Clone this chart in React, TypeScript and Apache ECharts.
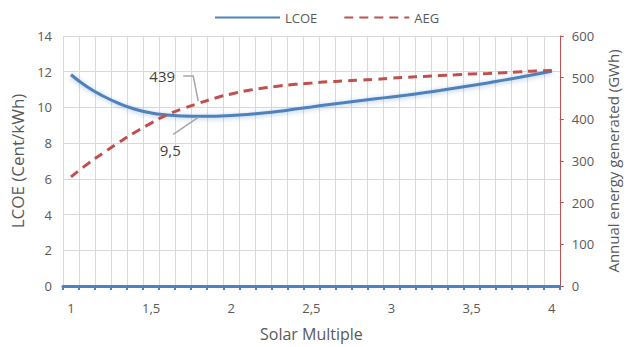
import React, { useEffect, useRef } from "react";
import * as echarts from "echarts";

const solarMultiple = [
  1.0, 1.1, 1.2, 1.3, 1.4, 1.5, 1.6, 1.7, 1.8, 1.9, 2.0, 2.1, 2.2, 2.3, 2.4, 2.5,
  2.6, 2.7, 2.8, 2.9, 3.0, 3.1, 3.2, 3.3, 3.4, 3.5, 3.6, 3.7, 3.8, 3.9, 4.0,
];
const lcoe = [
  11.83, 11.16, 10.64, 10.22, 9.9, 9.69, 9.58, 9.52, 9.5, 9.51, 9.55, 9.61, 9.69,
  9.79, 9.91, 10.03, 10.15, 10.26, 10.37, 10.48, 10.59, 10.7, 10.82, 10.95, 11.09,
  11.23, 11.37, 11.53, 11.69, 11.86, 12.03,
];
const aeg = [
  262, 292, 319, 345, 369, 391, 411, 426, 439, 451, 461, 469, 475, 480, 484, 487,
  490, 492, 494, 496, 499, 501, 503, 505, 507, 509, 510, 512, 514, 516, 517,
];
const annotIndex = 8;
const annotLcoe = "9,5";
const annotAeg = "439";

const FONT = "Open Sans";
const GREY = "#595959";
const BLUE = "#4f81bd";
const RED = "#c0504d";

export default function App() {
  const ref = useRef<HTMLDivElement>(null);
  useEffect(() => {
    document.body.style.margin = "0";
    if (!ref.current) return;
    const chart = echarts.init(ref.current, undefined, { renderer: "svg" });
    const fmt = (v: any) => String(v).replace(".", ",");
    chart.setOption({
      animation: false,
      textStyle: { fontFamily: FONT },
      legend: {
        top: 6,
        left: 209,
        itemWidth: 65,
        itemHeight: 14,
        itemGap: 26,
        itemStyle: { opacity: 0 },
        textStyle: { color: GREY, fontSize: 13, fontFamily: FONT },
        data: ["LCOE", "AEG"],
      },
      grid: { left: 63, right: 68, top: 36, bottom: 59, containLabel: false },
      xAxis: {
        type: "category",
        data: solarMultiple.map((v) => String(v)),
        boundaryGap: true,
        name: "Solar Multiple",
        nameLocation: "middle",
        nameGap: 40,
        nameTextStyle: { color: GREY, fontSize: 16, fontFamily: FONT },
        axisLine: { show: true, lineStyle: { color: BLUE, width: 3 } },
        axisTick: { show: true, interval: 0, length: 4, lineStyle: { color: BLUE, width: 2 } },
        axisLabel: {
          interval: 4,
          color: GREY,
          fontSize: 13,
          margin: 15,
          fontFamily: FONT,
          formatter: fmt,
        },
        splitLine: { show: true, interval: 0, lineStyle: { color: "#d9d9d9", width: 1 } },
      },
      yAxis: [
        {
          type: "value",
          min: 0,
          max: 14,
          interval: 2,
          name: "LCOE (Cent/kWh)",
          nameLocation: "middle",
          nameGap: 34,
          nameTextStyle: { color: GREY, fontSize: 17, fontFamily: FONT },
          axisLine: { show: false },
          axisTick: { show: false },
          axisLabel: { color: GREY, fontSize: 13, margin: 11, fontFamily: FONT },
          splitLine: { show: true, lineStyle: { color: "#d9d9d9", width: 1 } },
        },
        {
          type: "value",
          min: 0,
          max: 600,
          interval: 100,
          position: "right",
          name: "Annual energy generated (GWh)",
          nameLocation: "middle",
          nameGap: 36,
          nameTextStyle: { color: GREY, fontSize: 15, fontFamily: FONT },
          axisLine: { show: true, lineStyle: { color: RED, width: 1 } },
          axisTick: { show: true, length: 4, lineStyle: { color: RED } },
          axisLabel: { color: GREY, fontSize: 13, margin: 12, fontFamily: FONT },
          splitLine: { show: false },
        },
      ],
      series: [
        {
          name: "LCOE",
          type: "line",
          yAxisIndex: 0,
          data: lcoe,
          smooth: true,
          symbol: "none",
          showSymbol: false,
          lineStyle: {
            color: BLUE,
            width: 3,
            shadowColor: "rgba(79,129,189,0.45)",
            shadowBlur: 5,
            shadowOffsetY: 1,
          },
          itemStyle: { color: BLUE },
          z: 3,
        },
        {
          name: "AEG",
          type: "line",
          yAxisIndex: 1,
          data: aeg,
          smooth: true,
          symbol: "none",
          showSymbol: false,
          lineStyle: { color: RED, width: 3, type: [9, 6] },
          itemStyle: { color: RED },
          z: 4,
        },
      ],
    });

    const p1 = chart.convertToPixel({ seriesIndex: 1 }, [annotIndex, aeg[annotIndex]]) as number[];
    const p0 = chart.convertToPixel({ seriesIndex: 0 }, [annotIndex, lcoe[annotIndex]]) as number[];
    const lineStyle = { stroke: "#a6a6a6", lineWidth: 1.5, fill: null };
    chart.setOption({
      graphic: [
        {
          type: "polyline",
          shape: { points: [[p1[0] - 16, p1[1] - 27], [p1[0] - 6, p1[1] - 27], [p1[0] - 1, p1[1] - 2]] },
          style: lineStyle,
          z: 10,
        },
        {
          type: "text",
          x: p1[0] - 37,
          y: p1[1] - 27,
          style: {
            text: annotAeg,
            fill: "#404040",
            font: `15px "${FONT}"`,
            align: "center",
            verticalAlign: "middle",
          },
          z: 10,
        },
        {
          type: "line",
          shape: { x1: p0[0] - 26, y1: p0[1] + 18, x2: p0[0] - 1, y2: p0[1] + 1 },
          style: lineStyle,
          z: 10,
        },
        {
          type: "text",
          x: p0[0] - 29,
          y: p0[1] + 34,
          style: {
            text: annotLcoe,
            fill: "#404040",
            font: `15px "${FONT}"`,
            align: "center",
            verticalAlign: "middle",
          },
          z: 10,
        },
      ],
    });
    return () => chart.dispose();
  }, []);
  return <div ref={ref} style={{ width: 628, height: 347 }} />;
}
